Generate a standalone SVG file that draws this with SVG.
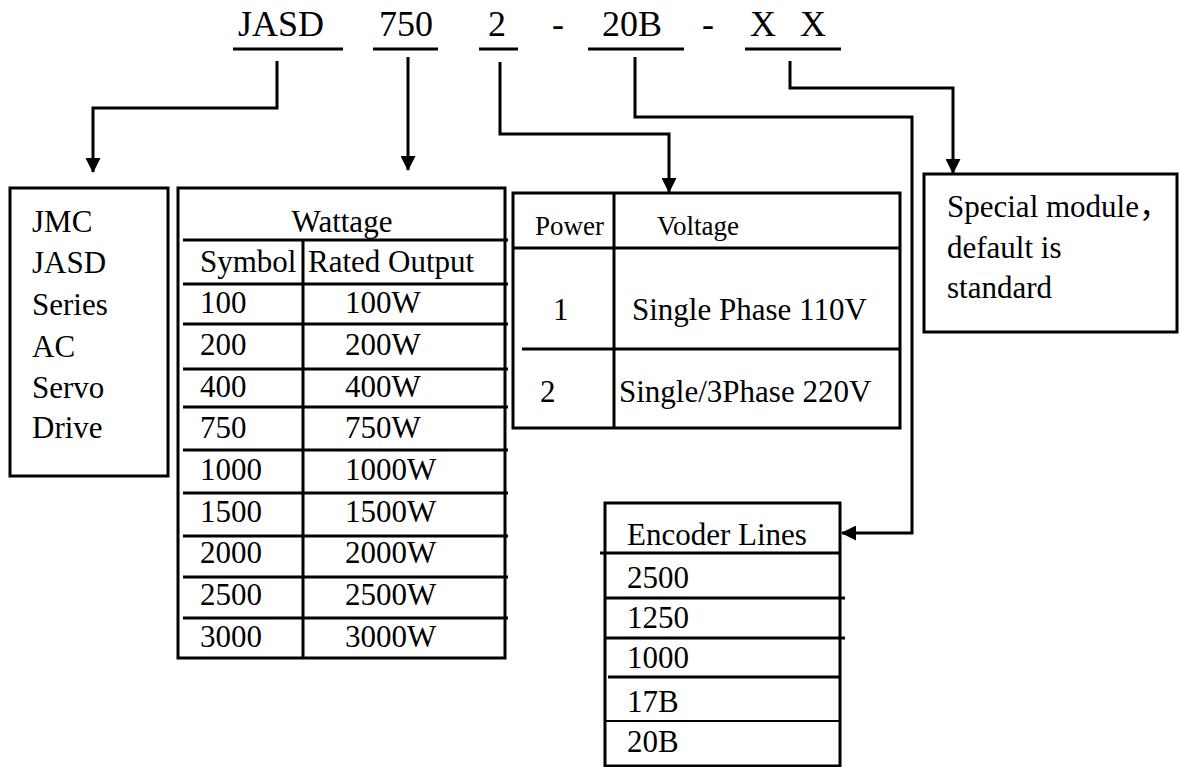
<svg xmlns="http://www.w3.org/2000/svg" width="1180" height="767" viewBox="0 0 1180 767">
<style>
text{font-family:"Liberation Serif","Times New Roman","Noto Sans CJK SC",serif;fill:#000;}
.t{font-size:36px;}
.b{font-size:31px;}
.s{font-size:27px;}
.box{fill:none;stroke:#000;stroke-width:3;}
.ln{stroke:#000;stroke-width:3;fill:none;}
.thin{stroke:#000;stroke-width:2;fill:none;}
.c{stroke:#000;stroke-width:3;fill:none;stroke-linejoin:miter;}
</style>
<defs>
<marker id="ah" viewBox="0 0 15 15" refX="14" refY="7.5" markerWidth="15" markerHeight="15" markerUnits="userSpaceOnUse" orient="auto">
<path d="M0,0 L15,7.5 L0,15 z" fill="#000"/>
</marker>
</defs>
<rect width="1180" height="767" fill="#fff"/>

<g id="title">
<text class="t" x="238" y="36">JASD</text>
<text class="t" x="379" y="36">750</text>
<text class="t" x="488" y="36">2</text>
<text class="t" x="552" y="36">-</text>
<text class="t" x="602" y="36">20B</text>
<text class="t" x="702" y="36">-</text>
<text class="t" x="750" y="36">X</text>
<text class="t" x="800" y="36">X</text>
<line class="ln" x1="233" y1="49" x2="343" y2="49"/>
<line class="ln" x1="373" y1="49" x2="438" y2="49"/>
<line class="ln" x1="479" y1="49" x2="518" y2="49"/>
<line class="ln" x1="588" y1="49" x2="684" y2="49"/>
<line class="ln" x1="745" y1="49" x2="841" y2="49"/>
</g>

<g id="connectors">
<path class="c" d="M277,61 V108 H93 V172" marker-end="url(#ah)"/>
<path class="c" d="M408,57 V170" marker-end="url(#ah)"/>
<path class="c" d="M500,62 V134 H669 V192" marker-end="url(#ah)"/>
<path class="c" d="M635,57 V117 H912 V533 H842" marker-end="url(#ah)"/>
<path class="c" d="M790,61 V88 H953 V173" marker-end="url(#ah)"/>
</g>

<g id="series">
<rect class="box" x="10" y="188" width="158" height="288"/>
<text class="b" x="32" y="232">JMC</text>
<text class="b" x="32" y="273">JASD</text>
<text class="b" x="32" y="315">Series</text>
<text class="b" x="32" y="357">AC</text>
<text class="b" x="32" y="398">Servo</text>
<text class="b" x="32" y="438">Drive</text>
</g>

<g id="wattage">
<rect class="box" x="178" y="188" width="327" height="470"/>
<line class="ln" x1="303" y1="240" x2="303" y2="658"/>
<line class="ln" x1="183" y1="240" x2="508" y2="240"/>
<line class="ln" x1="183" y1="284" x2="508" y2="284"/>
<line class="ln" x1="183" y1="324" x2="508" y2="324"/>
<line class="ln" x1="183" y1="369" x2="508" y2="369"/>
<line class="ln" x1="183" y1="407" x2="508" y2="407"/>
<line class="ln" x1="183" y1="450" x2="508" y2="450"/>
<line class="ln" x1="183" y1="493" x2="508" y2="493"/>
<line class="ln" x1="183" y1="536" x2="508" y2="536"/>
<line class="ln" x1="183" y1="577" x2="508" y2="577"/>
<line class="ln" x1="183" y1="618" x2="508" y2="618"/>
<text class="b" x="342" y="232" text-anchor="middle">Wattage</text>
<text class="b" x="200" y="272">Symbol</text>
<text class="b" x="308" y="272">Rated Output</text>
<text class="b" x="200" y="313">100</text><text class="b" x="345" y="313">100W</text>
<text class="b" x="200" y="355">200</text><text class="b" x="345" y="355">200W</text>
<text class="b" x="200" y="397">400</text><text class="b" x="345" y="397">400W</text>
<text class="b" x="200" y="438">750</text><text class="b" x="345" y="438">750W</text>
<text class="b" x="200" y="480">1000</text><text class="b" x="345" y="480">1000W</text>
<text class="b" x="200" y="522">1500</text><text class="b" x="345" y="522">1500W</text>
<text class="b" x="200" y="563">2000</text><text class="b" x="345" y="563">2000W</text>
<text class="b" x="200" y="605">2500</text><text class="b" x="345" y="605">2500W</text>
<text class="b" x="200" y="647">3000</text><text class="b" x="345" y="647">3000W</text>
</g>

<g id="power">
<rect class="box" x="513" y="193" width="387" height="235"/>
<line class="ln" x1="513" y1="248" x2="900" y2="248"/>
<line class="ln" x1="614" y1="193" x2="614" y2="428"/>
<line class="ln" x1="522" y1="349" x2="900" y2="349"/>
<text class="s" x="535" y="235">Power</text>
<text class="s" x="657" y="235">Voltage</text>
<text class="b" x="553" y="320">1</text>
<text class="b" x="632" y="320">Single Phase 110V</text>
<text class="b" x="540" y="402">2</text>
<text class="b" x="619" y="402">Single/3Phase 220V</text>
</g>

<g id="encoder">
<rect class="box" x="605" y="503" width="235" height="263"/>
<line class="ln" x1="600" y1="553" x2="840" y2="553"/>
<line class="ln" x1="605" y1="598" x2="845" y2="598"/>
<line class="ln" x1="605" y1="638" x2="845" y2="638"/>
<line class="ln" x1="608" y1="677" x2="840" y2="677"/>
<line class="thin" x1="605" y1="721" x2="840" y2="721"/>
<text class="b" x="627" y="545">Encoder Lines</text>
<text class="b" x="627" y="588">2500</text>
<text class="b" x="627" y="628">1250</text>
<text class="b" x="627" y="668">1000</text>
<text class="b" x="627" y="712">17B</text>
<text class="b" x="627" y="752">20B</text>
</g>

<g id="special">
<rect class="box" x="924" y="174" width="253" height="158"/>
<text class="b" x="947" y="217">Special module，</text>
<text class="b" x="947" y="258">default is</text>
<text class="b" x="947" y="298">standard</text>
</g>
</svg>
